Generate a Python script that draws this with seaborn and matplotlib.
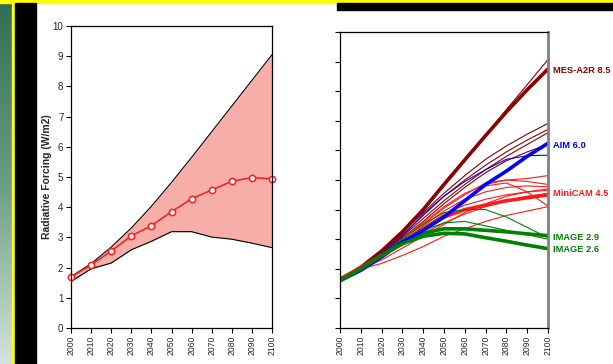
import matplotlib
matplotlib.use("Agg")
from matplotlib import pyplot as plt
import matplotlib.patches as mpatches
import numpy as np
import seaborn as sns

years = [2000, 2010, 2020, 2030, 2040, 2050, 2060, 2070, 2080, 2090, 2100]

# left panel: range and median
upper = [1.70, 2.13, 2.68, 3.31, 4.03, 4.82, 5.65, 6.50, 7.35, 8.20, 9.05]
lower = [1.54, 1.96, 2.15, 2.59, 2.87, 3.19, 3.19, 3.01, 2.94, 2.81, 2.66]
median = [1.69, 2.09, 2.55, 3.05, 3.39, 3.85, 4.28, 4.57, 4.86, 4.98, 4.94]

# right panel: scenario pathways
mes_thick = [1.60, 2.05, 2.60, 3.25, 4.00, 4.85, 5.68, 6.50, 7.30, 8.05, 8.75]
mes_thin = [
    [1.60, 2.05, 2.60, 3.25, 4.00, 4.80, 5.65, 6.50, 7.38, 8.22, 9.07],
    [1.60, 2.05, 2.60, 3.25, 3.90, 4.55, 5.15, 5.70, 6.15, 6.55, 6.91],
    [1.60, 2.00, 2.55, 3.15, 3.80, 4.45, 5.00, 5.50, 5.95, 6.35, 6.71],
    [1.60, 2.00, 2.50, 3.10, 3.70, 4.30, 4.85, 5.35, 5.80, 6.20, 6.60],
    [1.60, 2.00, 2.50, 3.05, 3.60, 4.20, 4.75, 5.25, 5.65, 5.95, 6.20],
]
aim_thick = [1.60, 1.95, 2.40, 2.90, 3.30, 3.75, 4.30, 4.85, 5.30, 5.80, 6.24]
aim_thin = [[1.60, 2.00, 2.50, 3.10, 3.85, 4.45, 4.95, 5.35, 5.70, 5.82, 5.84]]
minicam_thick = [1.65, 2.05, 2.45, 2.90, 3.35, 3.75, 4.00, 4.15, 4.30, 4.40, 4.50]
minicam_thin = [
    [1.65, 2.05, 2.50, 3.00, 3.55, 4.10, 4.55, 4.85, 5.00, 5.05, 5.15],
    [1.65, 2.05, 2.50, 3.00, 3.50, 4.05, 4.50, 4.90, 5.00, 4.95, 4.85],
    [1.65, 2.05, 2.45, 2.90, 3.45, 3.95, 4.35, 4.60, 4.75, 4.80, 4.77],
    [1.65, 2.00, 2.45, 2.85, 3.30, 3.80, 4.30, 4.80, 4.90, 4.60, 4.12],
    [1.65, 2.00, 2.18, 2.45, 2.75, 3.10, 3.35, 3.60, 3.80, 3.95, 4.10],
    [1.65, 2.00, 2.30, 2.70, 3.10, 3.50, 3.90, 4.20, 4.45, 4.60, 4.70],
    [1.65, 2.05, 2.45, 2.95, 3.40, 3.85, 4.15, 4.35, 4.50, 4.60, 4.65],
    [1.70, 2.05, 2.40, 2.80, 3.20, 3.55, 3.85, 4.10, 4.30, 4.45, 4.55],
]
image29_thick = [1.60, 2.00, 2.45, 2.90, 3.20, 3.35, 3.35, 3.30, 3.25, 3.18, 3.12]
image26_thick = [1.60, 2.00, 2.45, 2.85, 3.10, 3.20, 3.18, 3.05, 2.93, 2.80, 2.68]
image_thin = [
    [1.60, 2.00, 2.50, 3.00, 3.50, 3.90, 4.00, 4.00, 3.75, 3.40, 3.05],
    [1.60, 2.00, 2.45, 2.90, 3.30, 3.55, 3.60, 3.45, 3.30, 3.15, 3.00],
]

labels = ["MES-A2R 8.5", "AIM 6.0", "MiniCAM 4.5", "IMAGE 2.9", "IMAGE 2.6"]
label_y = [8.7, 6.15, 4.55, 3.05, 2.65]

DARKRED = "#8B0000"
RED = "#FF1A1A"
BLUE = "#0000FF"
GREEN = "#008000"

sns.set_theme(style="ticks")
plt.rcParams["font.family"] = ["Liberation Sans", "DejaVu Sans"]

fig = plt.figure(figsize=(6.13, 3.64), dpi=100)
W, H = 613, 364

# decorative frame
grad = np.linspace(0, 1, 256).reshape(-1, 1)
cmap = matplotlib.colors.LinearSegmentedColormap.from_list("g", ["#2f6e52", "#6a9c84", "#d3e3dc"])
gax = fig.add_axes([0, 0, 12 / W, 1])
gax.imshow(grad, aspect="auto", cmap=cmap)
gax.axis("off")
fig.patches.append(mpatches.Rectangle((12 / W, 0), 3 / W, 1, transform=fig.transFigure, color="#FFFF00", zorder=0))
fig.patches.append(mpatches.Rectangle((0, 1 - 3 / H), 1, 3 / H, transform=fig.transFigure, color="#FFFF00", zorder=0))
fig.patches.append(mpatches.Rectangle((15 / W, 0), 21 / W, 1 - 3 / H, transform=fig.transFigure, color="black", zorder=0))
fig.patches.append(mpatches.Rectangle((337 / W, 1 - 10 / H), (W - 337) / W, 7 / H, transform=fig.transFigure, color="black", zorder=0))

ax1 = fig.add_axes([71 / W, 1 - 328 / H, 201 / W, 302 / H])
ax2 = fig.add_axes([340 / W, 1 - 328 / H, 208 / W, 296 / H])

# left panel
ax1.fill_between(years, lower, upper, color="#F7AEA8", lw=0)
sns.lineplot(x=years, y=upper, ax=ax1, color="black", lw=0.8)
sns.lineplot(x=years, y=lower, ax=ax1, color="black", lw=0.8)
sns.lineplot(x=years, y=median, ax=ax1, color=RED, lw=1.1, marker="o", markersize=4.5,
             markerfacecolor="white", markeredgecolor=RED, markeredgewidth=1.1, clip_on=False)
ax1.set_ylabel("Radiative Forcing (W/m2)", fontsize=7.5, fontweight="bold")
ax1.yaxis.set_label_coords(-0.093, 0.5)

# right panel
groups = [
    (mes_thin, mes_thick, DARKRED),
    (minicam_thin, minicam_thick, RED),
    (image_thin, image29_thick, GREEN),
    (aim_thin, aim_thick, BLUE),
]
for thin, thick, col in groups:
    for s in thin:
        sns.lineplot(x=years, y=s, ax=ax2, color=col, lw=0.8)
    sns.lineplot(x=years, y=thick, ax=ax2, color=col, lw=2.6)
sns.lineplot(x=years, y=image26_thick, ax=ax2, color=GREEN, lw=2.6)

label_cols = [DARKRED, BLUE, RED, GREEN, GREEN]
for txt, yv, col in zip(labels, label_y, label_cols):
    ax2.text(2102.5, yv, txt, color=col, fontsize=6.7, fontweight="bold", va="center", ha="left",
             clip_on=False)

for ax in (ax1, ax2):
    ax.set_xlim(2000, 2100)
    ax.set_ylim(0, 10)
    ax.set_xticks(years)
    ax.set_xticklabels([str(y) for y in years], rotation=90, fontsize=6.2)
    ax.set_yticks(range(0, 11))
    ax.tick_params(direction="out", length=3.5, width=0.8, color="black", pad=2)
    ax.tick_params(axis="y", labelsize=7)
    for sp in ax.spines.values():
        sp.set_visible(True)
        sp.set_color("black")
        sp.set_linewidth(0.9)
    ax.set_facecolor("white")

ax2.set_yticklabels([])
ax2.spines["right"].set_color("#808080")
ax2.spines["right"].set_linewidth(2)

fig.savefig("out.png", dpi=100, facecolor="white")
